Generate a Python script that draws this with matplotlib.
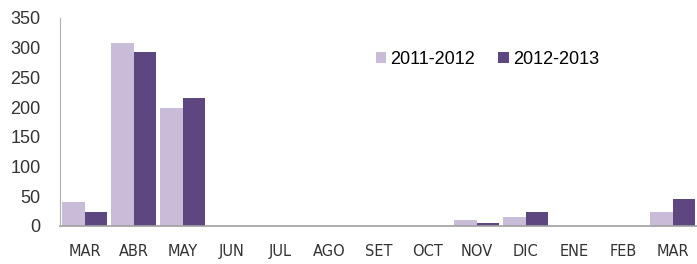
import numpy as np
import matplotlib.pyplot as plt

months = ["MAR", "ABR", "MAY", "JUN", "JUL", "AGO", "SET",
          "OCT", "NOV", "DIC", "ENE", "FEB", "MAR"]
series_2011 = [40, 308, 198, 0, 0, 0, 0, 0, 10, 15, 0, 0, 24]
series_2012 = [24, 292, 216, 0, 0, 0, 0, 0, 5, 24, 0, 0, 46]

LIGHT = "#c8bcd8"
DARK = "#5e4680"

fig = plt.figure(figsize=(6.97, 2.64), dpi=100)
ax = fig.add_axes([60 / 697, 38 / 264, 637 / 697, 208 / 264])

x = np.arange(len(months))
width = 0.45
ax.bar(x - width / 2, series_2011, width, color=LIGHT, label="2011-2012")
ax.bar(x + width / 2, series_2012, width, color=DARK, label="2012-2013")

ax.set_xlim(-0.5, len(months) - 0.5)
ax.set_ylim(0, 350)
ax.set_yticks(range(0, 351, 50))
ax.set_xticks(x)
ax.set_xticklabels(months, family="DejaVu Sans", fontsize=10.5, color="#333333")
for lbl in ax.get_yticklabels():
    lbl.set_family("Liberation Sans")
    lbl.set_fontsize(13)
    lbl.set_color("#333333")

ax.tick_params(axis="y", length=0, pad=14)
ax.tick_params(axis="x", length=0, pad=13)

for side in ["top", "right"]:
    ax.spines[side].set_visible(False)
ax.spines["left"].set_color("#b0b0b0")
ax.spines["bottom"].set_color("#a0a0a0")
ax.spines["bottom"].set_linewidth(1.2)

ax.legend(loc="upper left", bbox_to_anchor=(0.47, 0.92), ncol=2, frameon=False,
          prop={"family": "Liberation Sans", "size": 13},
          handlelength=0.6, handleheight=0.6, handletextpad=0.2, columnspacing=1.3)

fig.savefig("out.png", dpi=100)
